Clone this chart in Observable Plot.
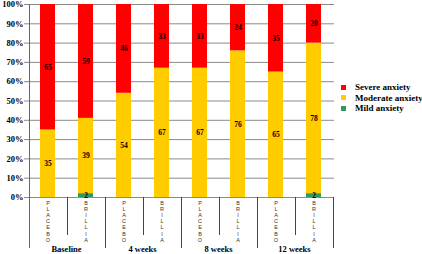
<!DOCTYPE html>
<html><head><meta charset="utf-8">
<script src="https://cdn.jsdelivr.net/npm/d3@7"></script>
<script src="https://cdn.jsdelivr.net/npm/@observablehq/plot@0.6"></script>
<style>
body{margin:0;background:#fff;}
#wrap{position:relative;width:422px;height:254px;overflow:hidden;}
#wrap svg{position:absolute;left:0;top:0;}
#legend{position:absolute;left:340px;top:82px;font:bold 9px "Liberation Serif","Times New Roman",serif;color:#000;}
#legend .row{height:10.5px;line-height:10.5px;white-space:nowrap;display:flex;align-items:center;}
#legend .sw{width:5px;height:5px;margin-right:9px;margin-left:1px;}
</style></head><body><div id="wrap"><div id="legend"></div></div>
<script>
const groups = ["Baseline", "4 weeks", "8 weeks", "12 weeks"];
const arms = ["PLACEBO", "BRILLIA"];
const levels = ["Mild anxiety", "Moderate anxiety", "Severe anxiety"];
const colors = ["#2E9966", "#FFCC00", "#FF0000"];
const mild =     [0, 2, 0, 0, 0, 0, 0, 2];
const moderate = [35, 39, 54, 67, 67, 76, 65, 78];
const severe =   [65, 59, 46, 33, 33, 24, 35, 20];
const yTicks = [0, 10, 20, 30, 40, 50, 60, 70, 80, 90, 100];

const keys = [];
groups.forEach(g => arms.forEach(a => keys.push(g + "|" + a)));
const series = [mild, moderate, severe];
const data = [];
keys.forEach((k, i) => {
  levels.forEach((lv, j) => {
    if (series[j][i] > 0) data.push({key: k, level: lv, value: series[j][i]});
  });
});

const serif = "Liberation Serif, Times New Roman, serif";
const plot = Plot.plot({
  width: 422,
  height: 254,
  marginLeft: 27,
  marginRight: 88,
  marginTop: 4,
  marginBottom: 57,
  style: {background: "transparent"},
  x: {domain: keys, paddingInner: 0.6, paddingOuter: 0.3},
  y: {domain: [0, 100]},
  color: {domain: levels, range: colors},
  marks: [
    Plot.gridY(yTicks, {stroke: "#8a8a8a", strokeOpacity: 1, strokeWidth: 1}),
    Plot.axisY(yTicks, {tickSize: 3, tickPadding: 1, stroke: "#8a8a8a", tickFormat: d => d + "%",
      fontFamily: serif, fontWeight: "bold", fontSize: 8.5, fill: "#000", label: null}),
    Plot.barY(data, {x: "key", y: "value", fill: "level", order: levels}),
    Plot.text(data, Plot.stackY({x: "key", y: "value", z: "level", order: levels, text: d => String(d.value),
      fontFamily: serif, fontWeight: "bold", fontSize: 7.5, fill: "#000"})),
    Plot.axisX({tickSize: 0, tickPadding: 3.5, label: null, lineAnchor: "top", lineHeight: 1.1,
      tickFormat: k => k.split("|")[1].split("").join("\n"),
      fontFamily: "Liberation Sans, Arial, sans-serif", fontSize: 5.5, fill: "#333"})
  ]
});

document.getElementById("wrap").appendChild(plot);

// category separators and group labels derived from the band scale
const x = plot.scale("x"), y = plot.scale("y");
const svg = d3.select(plot);
const gap = (x.step - x.bandwidth) / 2;
const y0 = y.apply(0), yTop = y.apply(100);
const seps = svg.append("g").attr("stroke", "#444").attr("stroke-width", 1);
keys.forEach((k, i) => {
  const left = Math.round(x.apply(k) - gap) + 0.5;
  const long = i % 2 === 0;
  seps.append("line").attr("x1", left).attr("x2", left)
    .attr("y1", i === 0 ? yTop : y0).attr("y2", long ? y0 + 51 : y0 + 38)
    .attr("stroke", i === 0 ? "#666" : "#444");
});
const lastRight = Math.round(x.apply(keys[keys.length - 1]) - gap + x.step) + 0.5;
seps.append("line").attr("x1", lastRight).attr("x2", lastRight).attr("y1", y0).attr("y2", y0 + 51);
groups.forEach((g, gi) => {
  const left = x.apply(keys[gi * 2]) - gap;
  svg.append("text").attr("x", left + x.step).attr("y", y0 + 55)
    .attr("text-anchor", "middle").attr("font-family", serif).attr("font-weight", "bold")
    .attr("font-size", 8.5).attr("fill", "#000").text(g);
});

// legend
const legend = document.getElementById("legend");
[2, 1, 0].forEach(j => {
  const row = document.createElement("div");
  row.className = "row";
  row.innerHTML = `<span class="sw" style="background:${colors[j]}"></span><span>${levels[j]}</span>`;
  legend.appendChild(row);
});
</script>
</body></html>
